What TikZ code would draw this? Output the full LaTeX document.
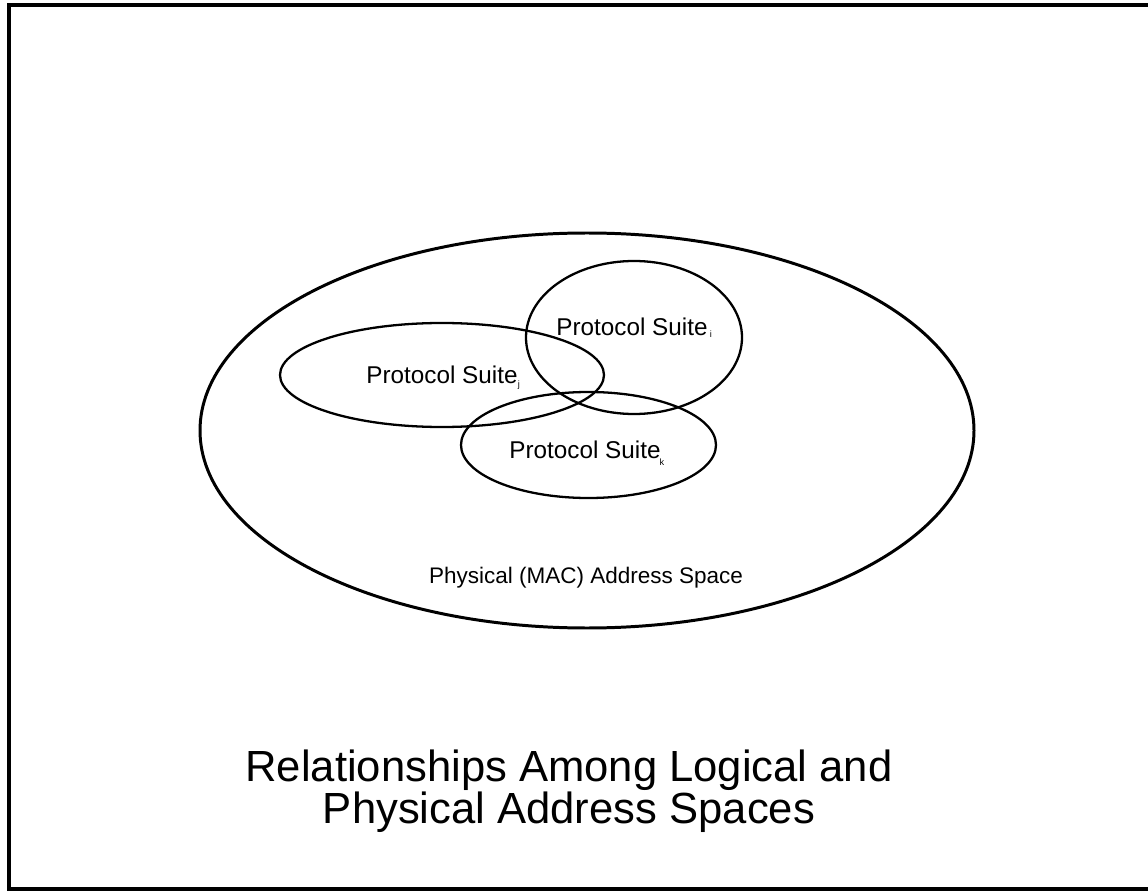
\documentclass[tikz,border=0pt]{standalone}
\usepackage{fontspec}
\setmainfont{Liberation Sans}

\tikzset{
  suitelabel/.style={font=\fontsize{6.9}{8}\selectfont},
  sub/.style={font=\fontsize{2.6}{3}\selectfont,inner sep=0pt}
}

\begin{document}
\begin{tikzpicture}[x=0.01cm,y=-0.01cm]
    \useasboundingbox (0,0) rectangle (1148,891);

    % marco
    \draw[line width=1.1pt] (1148,5) -- (9,5) -- (9,889) -- (1148,889);

    % espacio de direcciones fisicas
    \draw[line width=0.85pt] (587,430.5) ellipse [x radius=387, y radius=197.5];
    \node[font=\fontsize{6.4}{8}\selectfont] (mac) at (586,578) {Physical (MAC) Address Space};

    % suites de protocolos
    \draw[line width=0.65pt] (634,337.5) ellipse [x radius=108, y radius=76.5];
    \draw[line width=0.65pt] (442,375) ellipse [x radius=162, y radius=52];
    \draw[line width=0.65pt] (588.5,445) ellipse [x radius=127.5, y radius=53];

    \node[suitelabel] (si) at (632,327) {Protocol Suite};
    \node[sub] (subi) at (711,334) {i};
    \node[suitelabel] (sj) at (442,375) {Protocol Suite};
    \node[sub] (subj) at (519,385) {j};
    \node[suitelabel] (sk) at (585,450) {Protocol Suite};
    \node[sub] (subk) at (662,462) {k};

    % titulo
    \node[font=\fontsize{12.4}{11.8}\selectfont,align=center] (titulo) at (569,791)
      {Relationships Among Logical and\\Physical Address Spaces};
\end{tikzpicture}
\end{document}
